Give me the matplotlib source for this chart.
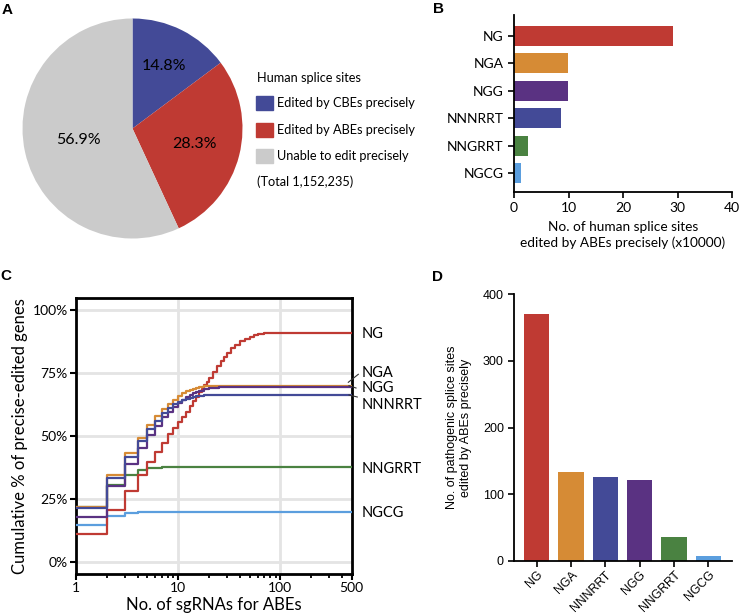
import matplotlib
matplotlib.use("Agg")
import matplotlib.pyplot as plt
import numpy as np
from matplotlib.patches import Rectangle
from matplotlib.lines import Line2D
from matplotlib.ticker import FixedLocator, NullFormatter

plt.rcParams['font.family'] = ['Lato', 'DejaVu Sans']

W, H = 739, 615

# ---------------- data ----------------
pie_labels = ["Edited by CBEs precisely", "Edited by ABEs precisely", "Unable to edit precisely"]
pie_values = [14.8, 28.3, 56.9]
pie_colors = ["#434A97", "#BF3A33", "#CBCBCB"]
pie_title = "Human splice sites"
pie_total = "(Total 1,152,235)"

pam_b = ["NG", "NGA", "NGG", "NNNRRT", "NNGRRT", "NGCG"]
sites_b = [29.1, 9.9, 9.9, 8.7, 2.5, 1.2]
colors_b = ["#BF3A33", "#D68B35", "#5A3282", "#434A97", "#4A8241", "#5B9EDE"]

pam_d = ["NG", "NGA", "NNNRRT", "NGG", "NNGRRT", "NGCG"]
sites_d = [371, 133, 125, 121, 35, 7]
colors_d = ["#BF3A33", "#D68B35", "#434A97", "#5A3282", "#4A8241", "#5B9EDE"]

# cumulative curves (step 'post'): x breakpoints and values (%)
x_ng = [1, 2, 3, 4, 5, 6, 7, 8, 9, 10, 11, 12, 13, 14, 15, 16, 17, 18, 19, 20,
        22, 24, 26, 28, 30, 33, 36, 40, 45, 50, 55, 60, 70, 80, 100, 500]
y_ng = [11.1, 20.7, 28.4, 34.5, 39.7, 43.9, 47.5, 50.8, 53.2, 55.6, 57.8, 59.8, 62.0,
        64.0, 65.8, 67.4, 68.9, 70.3, 71.7, 73.0, 75.6, 77.8, 79.8, 81.5, 83.0, 84.9,
        86.3, 87.7, 88.8, 89.6, 90.1, 90.5, 90.8, 91.0, 91.1, 91.1]

x_nga = [1, 2, 3, 4, 5, 6, 7, 8, 9, 10, 11, 12, 13, 14, 15, 16, 18, 20, 25, 500]
y_nga = [21.8, 34.5, 43.4, 49.5, 54.6, 58.2, 60.7, 62.8, 64.5, 66.0, 67.0, 67.8,
         68.4, 68.9, 69.2, 69.5, 69.8, 70.0, 70.1, 70.1]

x_ngg = [1, 2, 3, 4, 5, 6, 7, 8, 9, 10, 11, 12, 13, 14, 15, 16, 18, 20, 25, 30, 500]
y_ngg = [18.2, 30.4, 38.9, 45.4, 50.5, 54.2, 57.5, 59.8, 61.7, 63.2, 64.4, 65.5,
         66.3, 67.0, 67.6, 68.0, 68.7, 69.1, 69.5, 69.7, 69.7]

x_nnnrrt = [1, 2, 3, 4, 5, 6, 7, 8, 9, 10, 11, 12, 13, 14, 15, 16, 18, 20, 500]
y_nnnrrt = [21.4, 33.6, 41.9, 48.1, 52.8, 56.2, 59.1, 61.1, 62.8, 63.8, 64.5, 65.0,
            65.4, 65.7, 65.9, 66.1, 66.3, 66.4, 66.4]

x_nngrrt = [1, 2, 3, 4, 5, 6, 7, 8, 10, 500]
y_nngrrt = [22.0, 30.9, 34.6, 36.5, 37.3, 37.6, 37.7, 37.7, 37.7, 37.7]

x_ngcg = [1, 2, 3, 4, 5, 6, 8, 500]
y_ngcg = [14.8, 18.5, 19.4, 19.8, 20.0, 20.1, 20.1, 20.1]

curves = [
    ("NGCG", x_ngcg, y_ngcg, "#5B9EDE"),
    ("NNGRRT", x_nngrrt, y_nngrrt, "#4A8241"),
    ("NG", x_ng, y_ng, "#BF3A33"),
    ("NGA", x_nga, y_nga, "#D68B35"),
    ("NGG", x_ngg, y_ngg, "#5A3282"),
    ("NNNRRT", x_nnnrrt, y_nnnrrt, "#434A97"),
]


def fx(px):
    return px / W


def fy(py):
    return 1 - py / H


def rect(l, t, r, b):
    return [fx(l), fy(b), (r - l) / W, (b - t) / H]


fig = plt.figure(figsize=(W / 100, H / 100), dpi=100)

# ---------------- panel A ----------------
axA = fig.add_axes(rect(22.5, 18.5, 242.5, 238.5))
wedges, _ = axA.pie(pie_values, colors=pie_colors, startangle=90, counterclock=False,
                    radius=1.0, wedgeprops=dict(linewidth=0))
axA.set_xlim(-1, 1)
axA.set_ylim(-1, 1)
axA.set_aspect('equal')
dists = [0.64, 0.58, 0.50]
for w, v, d in zip(wedges, pie_values, dists):
    ang = np.deg2rad((w.theta1 + w.theta2) / 2)
    axA.text(d * np.cos(ang), d * np.sin(ang), f"{v}%", ha='center', va='center',
             fontsize=11.5)
# legend
fig.text(fx(257), fy(78), pie_title, fontsize=9.2, ha='left', va='center')
for i, (lab, col) in enumerate(zip(pie_labels, pie_colors)):
    yc = 103 + i * 26.5
    fig.patches.append(Rectangle((fx(256), fy(yc + 7)), 17 / W, 14 / H, color=col,
                                 transform=fig.transFigure, figure=fig))
    fig.text(fx(277), fy(yc), lab, fontsize=9.2, ha='left', va='center')
fig.text(fx(257), fy(182), pie_total, fontsize=9.2, ha='left', va='center')

# ---------------- panel B ----------------
axB = fig.add_axes(rect(514, 15, 732, 192))
yb = np.arange(len(pam_b))
axB.barh(yb, sites_b, height=0.73, color=colors_b)
axB.set_ylim(5.69, -0.77)
axB.set_xlim(0, 40)
axB.set_yticks(yb)
axB.set_yticklabels(pam_b, fontsize=10)
axB.set_xticks([0, 10, 20, 30, 40])
axB.tick_params(axis='x', labelsize=10, width=1.2, length=4)
axB.tick_params(axis='y', width=1.2, length=4)
for s in ['top', 'right']:
    axB.spines[s].set_visible(False)
for s in ['left', 'bottom']:
    axB.spines[s].set_linewidth(1.3)
axB.set_xlabel("No. of human splice sites\nedited by ABEs precisely (x10000)", fontsize=9.8,
               linespacing=1.3, labelpad=5)

# ---------------- panel C ----------------
axC = fig.add_axes(rect(76, 297.7, 351.7, 574))
axC.set_xscale('log')
axC.set_xlim(1, 500)
axC.set_ylim(-4.6, 105)
for xv in [10, 100]:
    axC.axvline(xv, color='#E4E4E4', lw=2, zorder=0)
for yv in [0, 25, 50, 75, 100]:
    axC.axhline(yv, color='#E4E4E4', lw=2, zorder=0)
for name, xs, ys, col in curves:
    axC.step(xs, ys, where='post', color=col, lw=1.6, zorder=3)
axC.xaxis.set_major_locator(FixedLocator([1, 10, 100, 500]))
axC.set_xticklabels(["1", "10", "100", "500"])
minors = [2, 3, 4, 5, 6, 7, 8, 9, 20, 30, 40, 50, 60, 70, 80, 90, 200, 300, 400]
axC.xaxis.set_minor_locator(FixedLocator(minors))
axC.xaxis.set_minor_formatter(NullFormatter())
axC.set_yticks([0, 25, 50, 75, 100])
axC.set_yticklabels(["0%", "25%", "50%", "75%", "100%"])
axC.tick_params(axis='both', which='major', labelsize=10, width=1.5, length=4, pad=2)
axC.tick_params(axis='x', which='minor', width=1.3, length=3)
for s in axC.spines.values():
    s.set_linewidth(2)
axC.set_xlabel("No. of sgRNAs for ABEs", fontsize=12, labelpad=2)
axC.set_ylabel("Cumulative % of precise-edited genes", fontsize=12, labelpad=3)

c_labels = [("NG", 334.3), ("NGA", 372.7), ("NGG", 388.3), ("NNNRRT", 405),
            ("NNGRRT", 469), ("NGCG", 513)]
for lab, py in c_labels:
    fig.text(fx(362), fy(py), lab, fontsize=10.5, ha='left', va='center')
for (x0, y0, x1, y1) in [(348.3, 382.3, 358.3, 374.3), (349, 385.7, 356, 388),
                         (349, 395, 357.3, 397)]:
    fig.add_artist(Line2D([fx(x0), fx(x1)], [fy(y0), fy(y1)], color='#333333', lw=0.8,
                          transform=fig.transFigure))

# ---------------- panel D ----------------
axD = fig.add_axes(rect(514.3, 294.3, 731.7, 560.7))
xd = np.arange(len(pam_d))
axD.bar(xd, sites_d, width=0.73, color=colors_d)
axD.set_xlim(-0.65, 5.68)
axD.set_ylim(0, 400)
axD.set_yticks([0, 100, 200, 300, 400])
axD.set_xticks(xd)
axD.set_xticklabels(pam_d, rotation=45, ha='right', rotation_mode='anchor',
                    fontsize=8.8, family=['Liberation Sans', 'DejaVu Sans'])
for lab in axD.get_yticklabels():
    lab.set_family(['Liberation Sans', 'DejaVu Sans'])
axD.tick_params(axis='y', labelsize=9, width=1.2, length=4)
axD.tick_params(axis='x', width=1.2, length=4, pad=2)
for s in ['top', 'right']:
    axD.spines[s].set_visible(False)
for s in ['left', 'bottom']:
    axD.spines[s].set_linewidth(1.3)
axD.set_ylabel("No. of pathogenic splice sites\nedited by ABEs precisely", fontsize=9,
               family=['Liberation Sans', 'DejaVu Sans'], labelpad=8)

# panel letters
for letter, px, py in [("A", 2, 10), ("B", 433, 9), ("C", 0, 276), ("D", 432, 277)]:
    fig.text(fx(px), fy(py), letter, fontsize=11, fontweight='bold', ha='left',
             va='center', family=['Liberation Sans', 'DejaVu Sans'])

fig.savefig("out.png", dpi=100)
